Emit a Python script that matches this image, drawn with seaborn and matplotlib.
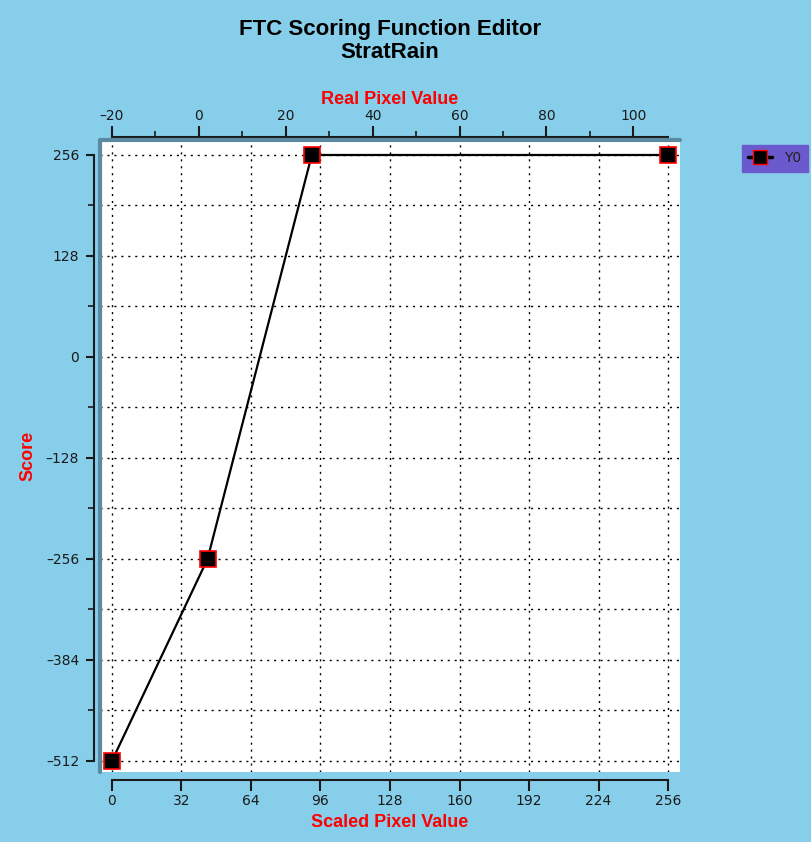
import pandas as pd
import seaborn as sns
import matplotlib.pyplot as plt
from matplotlib.ticker import MultipleLocator, FixedLocator

# scoring function points
scaled_x = [0, 44, 92, 256]
score = [-512, -256, 256, 256]
series = ['Y0', 'Y0', 'Y0', 'Y0']

x_ticks = [0, 32, 64, 96, 128, 160, 192, 224, 256]
y_ticks = [-512, -384, -256, -128, 0, 128, 256]
real_ticks = [-20, 0, 20, 40, 60, 80, 100]
real_minor = [-10, 10, 30, 50, 70, 90]

df = pd.DataFrame({'scaled': scaled_x, 'score': score, 'series': series})

sns.set_style('white')
plt.rcParams['font.family'] = ['DejaVu Sans']
plt.rcParams['text.color'] = '#111111'
plt.rcParams['xtick.color'] = '#1a1a1a'
plt.rcParams['ytick.color'] = '#1a1a1a'
bg = '#87ceeb'
dots = (0, (1.5, 3.5))

fig = plt.figure(figsize=(8.12, 8.42), dpi=100, facecolor=bg)
ax = fig.add_axes([100 / 812, 1 - 772 / 842, 580 / 812, 632 / 842])
ax.set_facecolor('white')

sns.lineplot(data=df, x='scaled', y='score', hue='series', palette=['black'],
             marker='s', markersize=12, markeredgecolor='red', markeredgewidth=1.2,
             markerfacecolor='black', linewidth=1.6, ax=ax, legend=False, sort=False)

ax.set_xlim(-5.5, 261.5)
ax.set_ylim(-526, 275)
ax.set_xticks(x_ticks)
ax.set_yticks(y_ticks)
ax.yaxis.set_minor_locator(MultipleLocator(64))

ax.grid(True, which='major', axis='x', color='black', linestyle=dots, linewidth=1)
ax.grid(True, which='both', axis='y', color='black', linestyle=dots, linewidth=1)

ax.spines['right'].set_visible(False)
ax.spines['top'].set_visible(False)
ax.spines['left'].set_position(('outward', 4))
ax.spines['left'].set_bounds(-512, 256)
ax.spines['bottom'].set_position(('outward', 6))
ax.spines['bottom'].set_bounds(0, 256)
for s in ['left', 'bottom']:
    ax.spines[s].set_color('#1a1a1a')
    ax.spines[s].set_linewidth(1.5)

ax.tick_params(axis='x', which='major', direction='out', length=8, width=1.5,
               labelsize=10, pad=2, bottom=True)
ax.tick_params(axis='y', which='major', direction='out', length=6, width=1.5,
               labelsize=10, pad=5, left=True)
ax.tick_params(axis='y', which='minor', direction='out', length=4, width=1.2, left=True)
ax.set_yticklabels([str(v).replace('-', '\u2013') for v in y_ticks])

lab = dict(color='red', fontsize=13, fontweight='bold', family='Liberation Sans')
ax.set_xlabel('Scaled Pixel Value', labelpad=4, **lab)
ax.set_ylabel('Score', labelpad=7, **lab)

# top axis: real pixel value
top = ax.secondary_xaxis('top', functions=(lambda s: s / 2 - 20, lambda r: (r + 20) * 2))
top.set_xticks(real_ticks)
top.set_xticklabels([str(v).replace('-', '\u2013') for v in real_ticks])
top.xaxis.set_minor_locator(FixedLocator(real_minor))
top.spines['top'].set_position(('outward', 2))
top.spines['top'].set_bounds(-20, 108)
top.spines['top'].set_color('#1a1a1a')
top.spines['top'].set_linewidth(1.5)
top.tick_params(axis='x', which='major', direction='out', length=8, width=1.5,
                labelsize=10, pad=2)
top.tick_params(axis='x', which='minor', direction='out', length=4, width=1.2)
top.set_xlabel('Real Pixel Value', labelpad=4, **lab)

# shaded border around plot area
ax.plot([0, 0, 1], [0, 1, 1], transform=ax.transAxes, color='#5b8aa0',
        linewidth=3, clip_on=False, zorder=5)

ttl = dict(ha='center', va='center', fontsize=16, fontweight='bold',
           family='Liberation Sans', color='black')
fig.text(390 / 812, 1 - 30 / 842, 'FTC Scoring Function Editor', **ttl)
fig.text(390 / 812, 1 - 53 / 842, 'StratRain', **ttl)

handle = plt.Line2D([], [], color='black', marker='s', markersize=10,
                    markerfacecolor='black', markeredgecolor='red', linewidth=2.5)
leg = fig.legend([handle], ['Y0'], loc='upper left', bbox_to_anchor=(742 / 812, 1 - 145 / 842),
                 frameon=True, fancybox=False, facecolor='#6a5acd', edgecolor='#6a5acd',
                 framealpha=1, fontsize=10, handlelength=1.7, handletextpad=0.9,
                 borderpad=0.45, borderaxespad=0)
leg.get_texts()[0].set_color('#222222')

fig.savefig('out.png', dpi=100, facecolor=bg)
